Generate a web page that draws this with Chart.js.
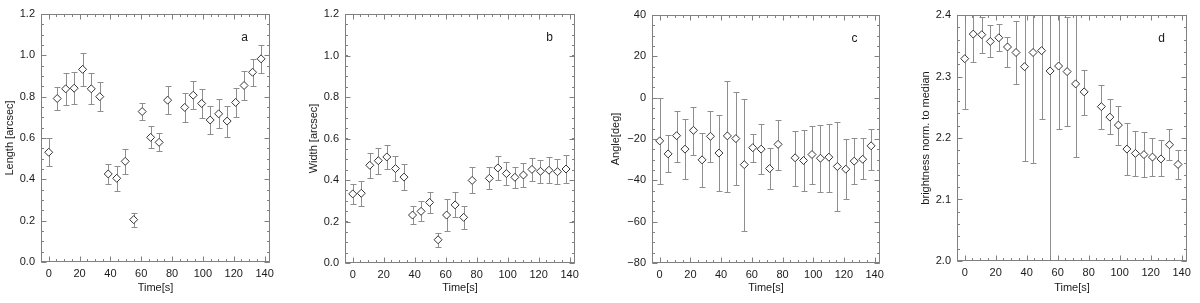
<!DOCTYPE html>
<html lang="en">
<head>
<meta charset="UTF-8">
<title>Loop parameters vs time</title>
<script src="https://cdn.jsdelivr.net/npm/chart.js@4.4.1/dist/chart.umd.min.js"></script>
<style>
  html, body { margin: 0; padding: 0; background: #fff; }
  body { width: 1200px; height: 303px; position: relative; overflow: hidden; }
  .panel { position: absolute; top: 0; height: 303px; }
</style>
</head>
<body>
<div class="panel" style="left:0px;width:275px"><canvas id="chartA"></canvas></div>
<div class="panel" style="left:304px;width:276px"><canvas id="chartB"></canvas></div>
<div class="panel" style="left:606px;width:279px"><canvas id="chartC"></canvas></div>
<div class="panel" style="left:916px;width:276px"><canvas id="chartD"></canvas></div>

<script>
// time of each frame (s); the frame near 83 s is missing in all panels
const times = [0.0, 5.5, 11.0, 16.5, 22.0, 27.6, 33.1, 38.6, 44.1, 49.6, 55.1, 60.6, 66.1,
               71.6, 77.1, 88.2, 93.7, 99.2, 104.7, 110.2, 115.7, 121.2, 126.7, 132.2, 137.7];

// a: length [arcsec]
const lengthVals = [0.531, 0.791, 0.838, 0.841, 0.932, 0.838, 0.800, 0.426, 0.405, 0.487, 0.205, 0.728, 0.603,
                    0.579, 0.783, 0.748, 0.807, 0.767, 0.687, 0.717, 0.682, 0.772, 0.854, 0.918, 0.983];
const lengthErr = [0.068, 0.055, 0.078, 0.077, 0.078, 0.075, 0.069, 0.050, 0.061, 0.062, 0.034, 0.042, 0.053,
                   0.044, 0.068, 0.070, 0.068, 0.070, 0.070, 0.070, 0.075, 0.070, 0.069, 0.066, 0.068];

// b: width [arcsec]
const widthVals = [0.333, 0.336, 0.471, 0.493, 0.511, 0.455, 0.414, 0.231, 0.249, 0.292, 0.112, 0.231, 0.280,
                   0.220, 0.398, 0.408, 0.458, 0.431, 0.413, 0.424, 0.451, 0.442, 0.447, 0.440, 0.453];
const widthErr = [0.049, 0.060, 0.060, 0.062, 0.060, 0.062, 0.064, 0.042, 0.049, 0.051, 0.033, 0.076, 0.060,
                  0.056, 0.063, 0.053, 0.057, 0.056, 0.051, 0.056, 0.055, 0.055, 0.062, 0.061, 0.067];

// c: angle [deg]
const angleVals = [-20.9, -27.2, -18.4, -24.9, -15.8, -30.1, -18.7, -26.8, -18.5, -19.8, -32.4, -24.2, -24.9,
                   -34.3, -22.6, -29.1, -30.4, -27.5, -29.3, -28.8, -33.3, -34.6, -30.7, -29.8, -23.3];
const angleLo = [-41.8, -35.8, -31.2, -39.3, -27.6, -43.4, -30.9, -45.4, -45.8, -42.3, -64.5, -31.0, -37.1,
                 -44.2, -34.9, -42.7, -45.4, -41.8, -45.5, -45.5, -54.9, -49.1, -41.8, -39.3, -35.0];
const angleHi = [-0.3, -18.3, -6.3, -10.5, -4.6, -17.0, -6.6, -8.6, 8.1, 2.6, -0.6, -17.6, -12.7,
                 -24.2, -10.7, -15.9, -15.7, -13.6, -13.1, -12.6, -11.9, -20.2, -19.5, -19.5, -15.0];

// d: brightness normalised to median
const brightVals = [2.329, 2.369, 2.368, 2.357, 2.363, 2.348, 2.339, 2.316, 2.339, 2.342, 2.309, 2.317, 2.308,
                    2.288, 2.275, 2.251, 2.234, 2.221, 2.182, 2.175, 2.173, 2.169, 2.166, 2.189, 2.157];
const brightLo = [2.247, 2.323, 2.339, 2.331, 2.341, 2.315, 2.287, 2.162, 2.159, 2.231, 1.950, 2.214, 2.219,
                  2.169, 2.238, 2.214, 2.206, 2.188, 2.140, 2.138, 2.136, 2.138, 2.139, 2.165, 2.134];
const brightHi = [2.411, 2.415, 2.396, 2.383, 2.385, 2.365, 2.390, 2.470, 2.520, 2.454, 2.670, 2.420, 2.397,
                  2.406, 2.311, 2.286, 2.264, 2.252, 2.224, 2.212, 2.209, 2.200, 2.196, 2.214, 2.180];

const FONT = "'Liberation Sans', Arial, Helvetica, sans-serif";
Chart.defaults.font.family = FONT;
Chart.defaults.font.size = 11;
Chart.defaults.color = '#1a1a1a';
Chart.defaults.animation = false;

// vertical error bars with small caps, clipped to the plot box
const errorBars = {
  id: 'errorBars',
  beforeDatasetsDraw(chart, args, opts) {
    const {ctx, chartArea: a, scales: {x, y}} = chart;
    ctx.save();
    ctx.beginPath();
    ctx.rect(a.left, a.top, a.right - a.left, a.bottom - a.top);
    ctx.clip();
    ctx.strokeStyle = '#8e8e8e';
    ctx.lineWidth = 1;
    for (let i = 0; i < times.length; i++) {
      const px = Math.round(x.getPixelForValue(times[i])) + 0.5;
      const y1 = Math.round(y.getPixelForValue(opts.lo[i])) + 0.5;
      const y2 = Math.round(y.getPixelForValue(opts.hi[i])) + 0.5;
      ctx.beginPath();
      ctx.moveTo(px, y1); ctx.lineTo(px, y2);
      ctx.moveTo(px - 3, y1); ctx.lineTo(px + 3, y1);
      ctx.moveTo(px - 3, y2); ctx.lineTo(px + 3, y2);
      ctx.stroke();
    }
    ctx.restore();
  }
};

// IDL-style box: frame on all sides, inward major + minor ticks, panel letter
const idlBox = {
  id: 'idlBox',
  afterDatasetsDraw(chart, args, opts) {
    const {ctx, chartArea: a, scales: {x, y}} = chart;
    const L = Math.round(a.left) + 0.5, R = Math.round(a.right) - 0.5;
    const T = Math.round(a.top) + 0.5, B = Math.round(a.bottom) - 0.5;
    ctx.save();
    ctx.strokeStyle = '#808080';
    ctx.lineWidth = 1;
    ctx.strokeRect(L, T, R - L, B - T);
    ctx.beginPath();
    const xTick = (v, len) => {
      const p = Math.round(x.getPixelForValue(v)) + 0.5;
      ctx.moveTo(p, B); ctx.lineTo(p, B - len);
      ctx.moveTo(p, T); ctx.lineTo(p, T + len);
    };
    const yTick = (v, len) => {
      const p = Math.round(y.getPixelForValue(v)) + 0.5;
      ctx.moveTo(L, p); ctx.lineTo(L + len, p);
      ctx.moveTo(R, p); ctx.lineTo(R - len, p);
    };
    x.ticks.forEach(t => xTick(t.value, 5));
    y.ticks.forEach(t => yTick(t.value, 5));
    for (let v = Math.ceil(x.min / opts.xMinor) * opts.xMinor; v <= x.max + 1e-9; v += opts.xMinor) xTick(v, 2.5);
    const n = Math.round((y.max - y.min) / opts.yMinor);
    for (let k = 0; k <= n; k++) yTick(y.min + k * opts.yMinor, 2.5);
    ctx.stroke();

    ctx.fillStyle = '#1a1a1a';
    ctx.font = '12px ' + FONT;
    ctx.textAlign = 'center';
    ctx.textBaseline = 'alphabetic';
    ctx.fillText(opts.letter, a.right - 25.5, a.top + 27);
    ctx.restore();
  }
};

function makePanel(canvasId, cfg) {
  const points = times.map((t, i) => ({x: t, y: cfg.vals[i]}));
  return new Chart(document.getElementById(canvasId), {
    type: 'scatter',
    data: {
      datasets: [{
        data: points,
        pointStyle: 'rectRot',
        pointRadius: 4,
        pointHoverRadius: 4,
        pointBorderWidth: 1,
        pointBorderColor: '#333333',
        pointBackgroundColor: '#ffffff',
        showLine: false
      }]
    },
    options: {
      responsive: true,
      maintainAspectRatio: false,
      events: [],
      layout: { padding: { top: cfg.top, right: 4, left: 0, bottom: 0 } },
      plugins: {
        legend: { display: false },
        tooltip: { enabled: false },
        errorBars: { lo: cfg.lo, hi: cfg.hi },
        idlBox: { xMinor: 5, yMinor: cfg.yMinor, letter: cfg.letter }
      },
      scales: {
        x: {
          type: 'linear',
          min: -5,
          max: 143.5,
          border: { display: false },
          grid: { display: false, drawTicks: false, tickLength: 0 },
          ticks: { stepSize: 20, includeBounds: false, autoSkip: false, maxRotation: 0, padding: 5 },
          title: { display: true, text: 'Time[s]', padding: { top: 0, bottom: 8 } },
          afterFit: s => { s.height = cfg.xHeight; s.paddingLeft = 0; s.paddingRight = 0; }
        },
        y: {
          min: cfg.yMin,
          max: cfg.yMax,
          border: { display: false },
          grid: { display: false, drawTicks: false, tickLength: 0 },
          ticks: {
            stepSize: cfg.yStep,
            autoSkip: false,
            padding: 6,
            callback: v => v.toFixed(cfg.digits).replace('-', '\u2212')
          },
          title: { display: true, text: cfg.yTitle, padding: { top: 3, bottom: 0 } },
          afterFit: s => { s.width = cfg.yWidth; s.paddingTop = 0; s.paddingBottom = 0; }
        }
      }
    },
    plugins: [errorBars, idlBox]
  });
}

makePanel('chartA', {
  vals: lengthVals,
  lo: lengthVals.map((v, i) => v - lengthErr[i]),
  hi: lengthVals.map((v, i) => v + lengthErr[i]),
  yMin: 0, yMax: 1.2, yStep: 0.2, yMinor: 0.05, digits: 1,
  yTitle: 'Length [arcsec]', letter: 'a',
  top: 14, xHeight: 41, yWidth: 41
});

makePanel('chartB', {
  vals: widthVals,
  lo: widthVals.map((v, i) => v - widthErr[i]),
  hi: widthVals.map((v, i) => v + widthErr[i]),
  yMin: 0, yMax: 1.2, yStep: 0.2, yMinor: 0.05, digits: 1,
  yTitle: 'Width [arcsec]', letter: 'b',
  top: 14, xHeight: 40, yWidth: 41
});

makePanel('chartC', {
  vals: angleVals, lo: angleLo, hi: angleHi,
  yMin: -80, yMax: 40, yStep: 20, yMinor: 5, digits: 0,
  yTitle: 'Angle[deg]', letter: 'c',
  top: 15, xHeight: 40, yWidth: 46
});

makePanel('chartD', {
  vals: brightVals, lo: brightLo, hi: brightHi,
  yMin: 2.0, yMax: 2.4, yStep: 0.1, yMinor: 0.02, digits: 1,
  yTitle: 'brightness norm. to median', letter: 'd',
  top: 15, xHeight: 42, yWidth: 41
});
</script>
</body>
</html>
